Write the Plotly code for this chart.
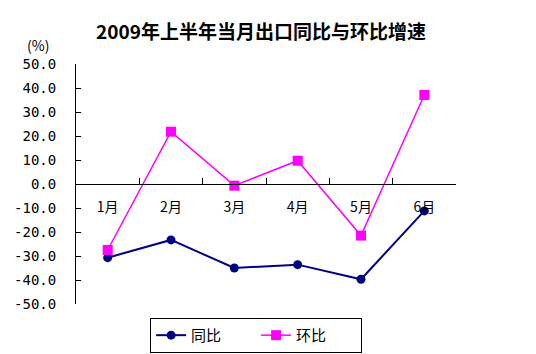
import plotly.graph_objects as go

months = ["1月", "2月", "3月", "4月", "5月", "6月"]
yoy = [-30.7, -23.3, -35.0, -33.6, -39.7, -11.2]
mom = [-27.5, 21.8, -0.7, 9.7, -21.5, 37.1]
ytick_vals = [50, 40, 30, 20, 10, 0, -10, -20, -30, -40, -50]
ytick_text = ["50.0", "40.0", "30.0", "20.0", "10.0", "0.0", "-10.0", "-20.0", "-30.0", "-40.0", "-50.0"]

fig = go.Figure()
fig.add_trace(go.Scatter(
    x=months, y=yoy, name="同比", mode="lines+markers",
    line=dict(color="#000080", width=2),
    marker=dict(symbol="circle", size=9, color="#000080"),
))
fig.add_trace(go.Scatter(
    x=months, y=mom, name="环比", mode="lines+markers",
    line=dict(color="#FF00FF", width=1.5),
    marker=dict(symbol="square", size=10, color="#FF00FF"),
))

fig.update_layout(
    width=536, height=354,
    margin=dict(l=76, r=80, t=64, b=50, autoexpand=False),
    paper_bgcolor="white", plot_bgcolor="white",
    font=dict(family="Noto Sans CJK SC", color="black"),
    title=dict(
        text="<b>2009年上半年当月出口同比与环比增速</b>",
        x=0.487, xref="container", xanchor="center",
        y=1 - 32 / 354, yref="container", yanchor="middle",
        font=dict(size=19, family="Noto Sans CJK SC", color="black"),
    ),
    xaxis=dict(
        type="category", range=[-0.5, 5.5],
        anchor="free", position=0.5,
        showline=True, linecolor="black", linewidth=1,
        ticks="inside", ticklen=6, tickcolor="black", tickwidth=1,
        tickson="boundaries",
        showgrid=False, zeroline=False,
        tickfont=dict(size=14, family="Noto Sans CJK SC"),
        ticklabelstandoff=10,
    ),
    yaxis=dict(
        range=[-50, 50],
        tickvals=ytick_vals, ticktext=ytick_text,
        showline=True, linecolor="black", linewidth=1,
        ticks="inside", ticklen=5, tickcolor="black",
        showgrid=False, zeroline=False,
        tickfont=dict(size=14, family="DejaVu Sans Mono"),
        ticklabelstandoff=16,
    ),
    legend=dict(
        orientation="h", x=0.474, xanchor="center", y=-0.058, yanchor="top",
        bordercolor="black", borderwidth=1,
        font=dict(size=15, family="Noto Sans CJK SC"),
        entrywidth=60,
    ),
    annotations=[dict(
        text="(%)", x=(38 - 76) / 380, y=(304 - 45) / 240,
        xref="paper", yref="paper", xanchor="center", yanchor="middle",
        showarrow=False, font=dict(size=14, family="Noto Sans CJK SC"),
    )],
)

fig.write_html("out.html")
